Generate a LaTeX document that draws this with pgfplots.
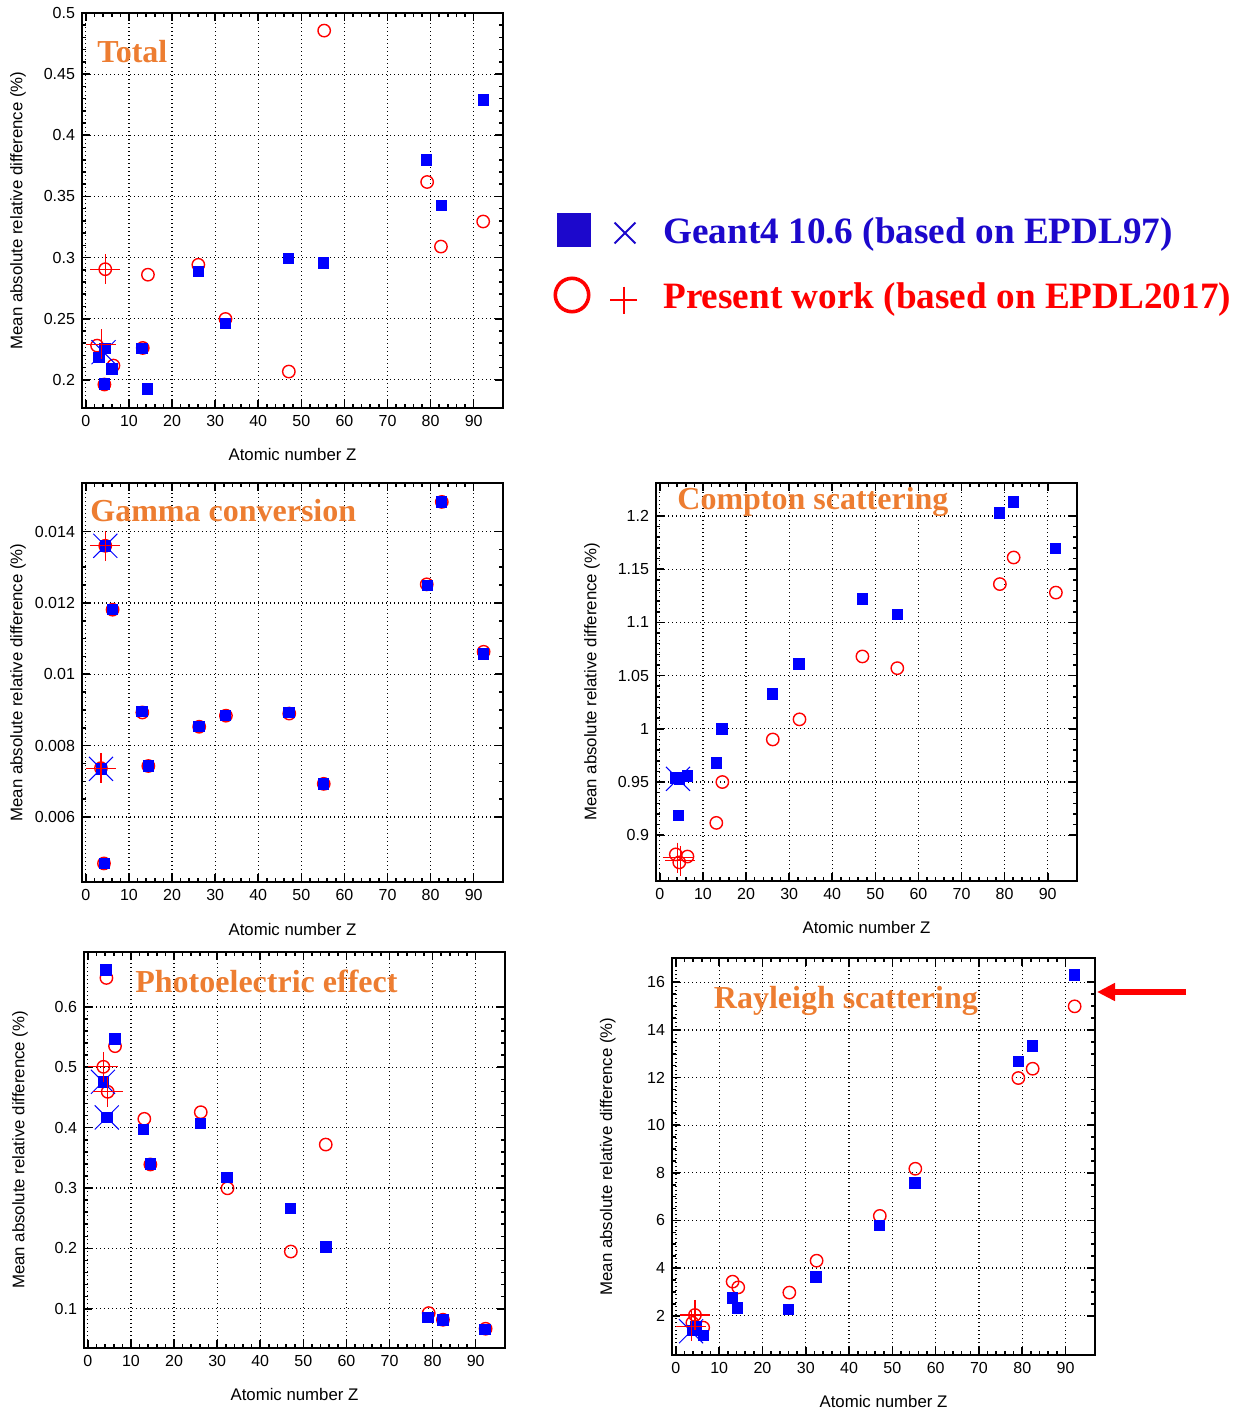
\documentclass[border=0pt]{standalone}
\usepackage{pgfplots}
\pgfplotsset{compat=1.18}
\usepackage{fontspec}
\setmainfont{Liberation Serif}
\setsansfont{Liberation Sans}
\usetikzlibrary{arrows.meta}
\definecolor{titleorange}{RGB}{237,125,49}
\definecolor{legblue}{RGB}{28,8,204}
\definecolor{mblue}{RGB}{0,0,255}
\definecolor{mred}{RGB}{255,0,0}

\pgfplotsset{
  panel/.style={
    scale only axis,
    anchor=south west,
    xmin=-0.9, xmax=96.8,
    xtick={0,10,20,30,40,50,60,70,80,90},
    xticklabels={0,10,20,30,40,50,60,70,80,90},
    minor x tick num=4,
    scaled y ticks=false, scaled x ticks=false,
    tick align=inside,
    tick pos=both,
    xticklabel pos=left, yticklabel pos=left,
    major tick length=4.2pt, minor tick length=2.2pt,
    every tick/.append style={black, line width=0.8pt},
    axis line style={line width=1pt},
    grid=major,
    major grid style={black, line width=0.6pt, dash pattern=on 0.6pt off 1.4pt},
    tick label style={font=\sffamily\fontsize{8}{9}\selectfont},
    xlabel={Atomic number Z},
    ylabel={Mean absolute relative difference (\%)},
    label style={font=\sffamily\fontsize{8.4}{10}\selectfont},
    xlabel style={at={(axis description cs:0.5,-0.118)}, anchor=center},
    ylabel style={at={(axis description cs:-0.152,0.5)}, anchor=center},
  },
  sq/.style={only marks, mark=square*, mark size=2.6pt, color=mblue, mark options={line width=0.2pt}},
  ci/.style={only marks, mark=o, mark size=3.1pt, color=mred, mark options={line width=0.7pt}},
  cx/.style={only marks, mark=x, mark size=8.5pt, color=mblue, mark options={line width=0.5pt}},
  cp/.style={only marks, mark=+, mark size=7.5pt, color=mred, mark options={line width=0.6pt}},
}

\begin{document}
\begin{tikzpicture}
\useasboundingbox (0,0) rectangle (622pt,705pt);

% ---------------- Total ----------------
\begin{axis}[panel, at={(41pt,501pt)}, width=210.5pt, height=197.5pt,
  ymin=0.177, ymax=0.5,
  ytick={0.2,0.25,0.3,0.35,0.4,0.45,0.5},
  yticklabels={0.2,0.25,0.3,0.35,0.4,0.45,0.5},
  minor y tick num=4]
\addplot[ci] coordinates {(2.6,0.228) (4.5,0.2905) (4.3,0.1962) (6.4,0.2117) (13.2,0.2261) (14.4,0.286) (26.1,0.2941) (32.4,0.2498) (47.1,0.2068) (55.3,0.4856) (79.2,0.3618) (82.4,0.309) (92.2,0.3295)};
\addplot[sq] coordinates {(3.0,0.2185) (4.4,0.2258) (4.2,0.1968) (6.0,0.209) (13,0.2261) (14.2,0.1927) (26,0.2887) (32.3,0.2463) (47,0.2993) (55.1,0.2958) (79,0.380) (82.4,0.343) (92.2,0.429)};
\addplot[cx] coordinates {(4.1,0.2226)};
\addplot[cp] coordinates {(4.5,0.2905) (3.6,0.229)};
\end{axis}

% ---------------- Gamma conversion ----------------
\begin{axis}[panel, at={(41pt,264pt)}, width=210.5pt, height=199.5pt,
  ymin=0.00418, ymax=0.01536,
  ytick={0.006,0.008,0.01,0.012,0.014},
  yticklabels={0.006,0.008,0.01,0.012,0.014},
  minor y tick num=3]
\addplot[ci] coordinates {(4.5,0.0136) (6.2,0.01181) (3.5,0.00737) (4.2,0.0047) (13.1,0.00893) (14.5,0.00743) (26.3,0.00853) (32.5,0.00884) (47.2,0.0089) (55.2,0.00693) (79.1,0.01252) (82.6,0.01483) (92.3,0.01063)};
\addplot[sq] coordinates {(4.5,0.0136) (6.1,0.01183) (3.5,0.00735) (4.2,0.0047) (13,0.00897) (14.4,0.00744) (26.2,0.00855) (32.3,0.00886) (47.1,0.00894) (55.1,0.00693) (79.2,0.0125) (82.4,0.01484) (92.2,0.01058)};
\addplot[cx] coordinates {(4.5,0.0136) (3.5,0.00735)};
\addplot[cp] coordinates {(4.5,0.0136) (3.5,0.00737)};
\end{axis}

% ---------------- Compton scattering ----------------
\begin{axis}[panel, at={(328pt,264.5pt)}, width=210.5pt, height=199pt,
  ymin=0.857, ymax=1.231,
  ytick={0.9,0.95,1,1.05,1.1,1.15,1.2},
  yticklabels={0.9,0.95,1,1.05,1.1,1.15,1.2},
  minor y tick num=4]
\addplot[ci] coordinates {(3.7,0.882) (4.5,0.8745) (6.4,0.880) (13.1,0.9116) (14.5,0.950) (26.2,0.990) (32.4,1.0089) (47,1.068) (55.1,1.057) (78.9,1.136) (82.1,1.161) (91.9,1.128)};
\addplot[sq] coordinates {(3.7,0.954) (4.5,0.953) (6.4,0.956) (4.3,0.919) (13,0.968) (14.3,1.0) (26.1,1.033) (32.2,1.0613) (46.9,1.1222) (55.1,1.1077) (78.8,1.203) (82,1.2135) (91.7,1.170)};
\addplot[cx] coordinates {(4.2,0.953)};
\addplot[cp] coordinates {(4.1,0.879) (4.7,0.876)};
\end{axis}

% ---------------- Photoelectric effect ----------------
\begin{axis}[panel, at={(42pt,31pt)}, width=210.5pt, height=198pt,
  ymin=0.035, ymax=0.691,
  ytick={0.1,0.2,0.3,0.4,0.5,0.6},
  yticklabels={0.1,0.2,0.3,0.4,0.5,0.6},
  minor y tick num=4]
\addplot[ci] coordinates {(4.3,0.648) (6.3,0.535) (3.6,0.5008) (4.6,0.4594) (13.1,0.4146) (14.5,0.339) (26.2,0.4256) (32.4,0.2995) (47.1,0.1948) (55.2,0.372) (79.1,0.0928) (82.4,0.0818) (92.3,0.0669)};
\addplot[sq] coordinates {(4.1,0.6617) (6.2,0.5476) (3.5,0.476) (4.4,0.417) (12.9,0.3977) (14.5,0.340) (26.1,0.4074) (32.2,0.3177) (47,0.2665) (55.2,0.2031) (78.9,0.0862) (82.3,0.0818) (92.1,0.0664)};
\addplot[cx] coordinates {(3.5,0.476) (4.4,0.417)};
\addplot[cp] coordinates {(3.6,0.5008) (4.6,0.4594)};
\end{axis}

% ---------------- Rayleigh scattering ----------------
\begin{axis}[panel, at={(336pt,27.5pt)}, width=211.5pt, height=198.5pt,
  ymin=0.35, ymax=17.02,
  ytick={2,4,6,8,10,12,14,16},
  yticklabels={2,4,6,8,10,12,14,16},
  minor y tick num=3]
\addplot[ci] coordinates {(4.4,2.03) (6.3,1.5) (3.8,1.7) (13.1,3.43) (14.4,3.19) (26.2,2.97) (32.5,4.31) (47.1,6.19) (55.3,8.17) (79.1,11.98) (82.4,12.37) (92.1,14.99)};
\addplot[sq] coordinates {(3.9,1.40) (4.6,1.55) (6.3,1.19) (13,2.76) (14.2,2.34) (26,2.28) (32.3,3.64) (46.9,5.81) (55.2,7.59) (79,12.68) (82.3,13.34) (91.95,16.32)};
\addplot[cx] coordinates {(3.5,1.35)};
\addplot[cp] coordinates {(4.4,2.03) (3.6,1.55)};
\end{axis}

% ---------------- overlay: titles, legend, arrow ----------------
\begin{axis}[at={(0pt,0pt)}, anchor=south west, scale only axis,
  width=622pt, height=705pt, hide axis, clip=false,
  xmin=0, xmax=1244, ymin=0, ymax=1410, y dir=reverse]
\addplot[only marks, mark=square*, mark size=8.25pt, color=legblue] coordinates {(573.5,229.5)};
\addplot[only marks, mark=x, mark size=7.4pt, color=legblue, mark options={line width=1pt}] coordinates {(625,233)};
\addplot[only marks, mark=o, mark size=8.35pt, color=mred, mark options={line width=1.8pt}] coordinates {(572,295)};
\addplot[only marks, mark=+, mark size=6.75pt, color=mred, mark options={line width=1pt}] coordinates {(623.5,300)};
\node[anchor=base west, inner sep=0, text=legblue, font=\rmfamily\bfseries\fontsize{18.6}{20}\selectfont] at (axis cs:663,243) {Geant4 10.6 (based on EPDL97)};
\node[anchor=base west, inner sep=0, text=mred, font=\rmfamily\bfseries\fontsize{18.6}{20}\selectfont] at (axis cs:663,308) {Present work (based on EPDL2017)};
\node[anchor=base west, inner sep=0, text=titleorange, font=\rmfamily\bfseries\fontsize{16}{18}\selectfont] at (axis cs:97,62) {Total};
\node[anchor=base west, inner sep=0, text=titleorange, font=\rmfamily\bfseries\fontsize{16}{18}\selectfont] at (axis cs:90,521.7) {Gamma conversion};
\node[anchor=base west, inner sep=0, text=titleorange, font=\rmfamily\bfseries\fontsize{16}{18}\selectfont] at (axis cs:677,509.3) {Compton scattering};
\node[anchor=base west, inner sep=0, text=titleorange, font=\rmfamily\bfseries\fontsize{16}{18}\selectfont] at (axis cs:135,992.5) {Photoelectric effect};
\node[anchor=base west, inner sep=0, text=titleorange, font=\rmfamily\bfseries\fontsize{16}{18}\selectfont] at (axis cs:713.5,1008.3) {Rayleigh scattering};
\draw[mred, line width=2.8pt, -{Triangle[length=9pt,width=8.5pt]}] (axis cs:1186,992) -- (axis cs:1097,992);
\end{axis}
\end{tikzpicture}
\end{document}
